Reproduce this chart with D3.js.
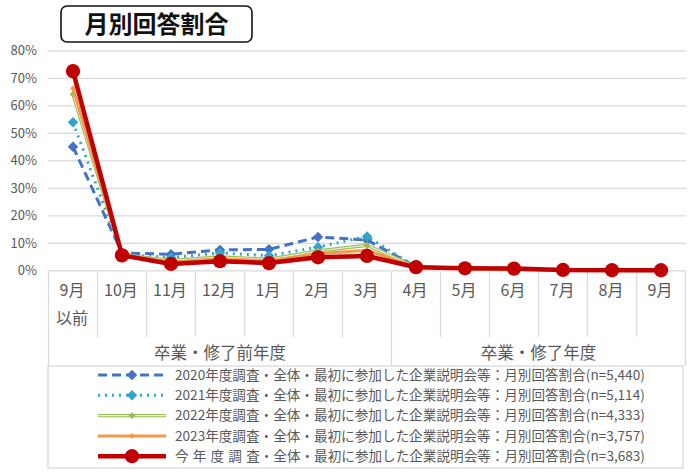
<!DOCTYPE html>
<html>
<head>
<meta charset="utf-8">
<script src="https://cdn.jsdelivr.net/npm/d3@7"></script>
<style>
  body { margin: 0; background: #fff; }
  text { font-family: "Noto Sans CJK JP", "Noto Sans", sans-serif; }
</style>
</head>
<body>
<div id="chart"></div>
<script>
// data
var months = ['9月', '10月', '11月', '12月', '1月', '2月', '3月', '4月', '5月', '6月', '7月', '8月', '9月'];
var groups = ['卒業・修了前年度', '卒業・修了年度'];
var yTicks = [0, 10, 20, 30, 40, 50, 60, 70, 80];

var v2020 = [45.1, 6.5, 6.0, 7.6, 7.8, 12.3, 11.2, 1.5, 0.8, 0.6, 0.3, 0.2, 0.1];
var v2021 = [54.0, 6.0, 4.8, 6.5, 5.5, 8.6, 12.5, 1.5, 0.8, 0.6, 0.3, 0.2, 0.1];
var v2022 = [64.2, 5.8, 3.8, 5.0, 4.2, 7.2, 9.3, 1.4, 0.8, 0.5, 0.3, 0.2, 0.1];
var v2023 = [66.4, 5.8, 3.2, 4.4, 3.6, 6.2, 7.5, 1.3, 0.8, 0.5, 0.3, 0.2, 0.1];
var vNow  = [72.6, 5.6, 2.5, 3.5, 2.8, 4.9, 5.4, 1.3, 0.9, 0.8, 0.3, 0.2, 0.2];

var prefixes = ['2020年度調査', '2021年度調査', '2022年度調査', '2023年度調査', '今年度調査'];
var suffixes = [
  '・全体・最初に参加した企業説明会等：月別回答割合(n=5,440)',
  '・全体・最初に参加した企業説明会等：月別回答割合(n=5,114)',
  '・全体・最初に参加した企業説明会等：月別回答割合(n=4,333)',
  '・全体・最初に参加した企業説明会等：月別回答割合(n=3,757)',
  '・全体・最初に参加した企業説明会等：月別回答割合(n=3,683)'
];

var svgWidth = 700;
var svgHeight = 476;
var gray = '#595959';
var gridColor = '#d9d9d9';

var svg = d3.select('#chart').append('svg')
  .attr('width', svgWidth)
  .attr('height', svgHeight);

// title box
svg.append('rect')
  .attr('x', 61).attr('y', 6)
  .attr('width', 191).attr('height', 36)
  .attr('rx', 6)
  .attr('fill', '#fff')
  .attr('stroke', '#111')
  .attr('stroke-width', 1.6);
svg.append('text')
  .attr('x', 156.5).attr('y', 33)
  .attr('text-anchor', 'middle')
  .attr('font-size', '24px')
  .attr('font-weight', 'bold')
  .attr('fill', '#111')
  .text('月別回答割合');

// scales
var x = d3.scaleBand().domain(d3.range(months.length)).range([48.5, 685.5]);
var y = d3.scaleLinear().domain([0, 80]).range([270.8, 50.8]);

// gridlines and y labels
svg.append('g').selectAll('line')
  .data(yTicks)
  .enter()
  .append('line')
  .attr('x1', 48).attr('x2', 686)
  .attr('y1', d => y(d)).attr('y2', d => y(d))
  .attr('stroke', gridColor)
  .attr('stroke-width', 1.3);

svg.append('g').selectAll('text')
  .data(yTicks)
  .enter()
  .append('text')
  .attr('x', 37)
  .attr('y', d => y(d))
  .attr('dy', '0.35em')
  .attr('text-anchor', 'end')
  .attr('font-size', '13px')
  .attr('fill', gray)
  .text(d => d + '%');

// category table
var tableTop = 272, monthBottom = 337, tableBottom = 366;
var table = svg.append('g');
table.selectAll('.vline')
  .data(d3.range(1, months.length))
  .enter()
  .append('line')
  .attr('x1', i => x(i)).attr('x2', i => x(i))
  .attr('y1', tableTop).attr('y2', monthBottom)
  .attr('stroke', gridColor)
  .attr('stroke-width', 1.3);
[x(0), x.range()[1]].forEach(function(px) {
  table.append('line')
    .attr('x1', px).attr('x2', px)
    .attr('y1', tableTop).attr('y2', tableBottom)
    .attr('stroke', gridColor).attr('stroke-width', 1.3);
});
table.append('line')
  .attr('x1', x(7)).attr('x2', x(7))
  .attr('y1', monthBottom).attr('y2', tableBottom)
  .attr('stroke', gridColor).attr('stroke-width', 1.3);

table.selectAll('.month')
  .data(months)
  .enter()
  .append('text')
  .attr('x', (d, i) => x(i) + x.bandwidth() / 2 - 1)
  .attr('y', 290)
  .attr('dy', '0.35em')
  .attr('text-anchor', 'middle')
  .attr('font-size', '16px')
  .attr('fill', gray)
  .text(d => d);
table.append('text')
  .attr('x', x(0) + x.bandwidth() / 2 - 1)
  .attr('y', 318)
  .attr('dy', '0.35em')
  .attr('text-anchor', 'middle')
  .attr('font-size', '16px')
  .attr('fill', gray)
  .text('以前');

table.append('text')
  .attr('x', (x(0) + x(7)) / 2)
  .attr('y', 353)
  .attr('dy', '0.35em')
  .attr('text-anchor', 'middle')
  .attr('font-size', '16.5px')
  .attr('fill', gray)
  .text(groups[0]);
table.append('text')
  .attr('x', (x(7) + x.range()[1]) / 2)
  .attr('y', 353)
  .attr('dy', '0.35em')
  .attr('text-anchor', 'middle')
  .attr('font-size', '16.5px')
  .attr('fill', gray)
  .text(groups[1]);

// series styles
var series = [
  { values: v2020, color: '#4472c4', width: 3, dash: '9,5', marker: 'diamond', size: 70 },
  { values: v2021, color: '#31a6c9', width: 3, dash: '2,5', marker: 'diamond', size: 70 },
  { values: v2022, color: '#9bbb59', width: 3.4, dash: null, marker: 'diamond', size: 30, inner: '#e9f2dc' },
  { values: v2023, color: '#f39a4a', width: 3, dash: null, marker: 'diamond', size: 22 },
  { values: vNow,  color: '#c00000', width: 4.5, dash: null, marker: 'circle', size: 160 }
];

var line = d3.line()
  .x((d, i) => x(i) + x.bandwidth() / 2)
  .y(d => y(d));

function symbolFor(s) {
  var type = s.marker === 'circle' ? d3.symbolCircle : d3.symbolDiamond2;
  return d3.symbol().type(type).size(s.size)();
}

series.forEach(function(s) {
  var g = svg.append('g');
  g.append('path')
    .attr('d', line(s.values))
    .attr('fill', 'none')
    .attr('stroke', s.color)
    .attr('stroke-width', s.width)
    .attr('stroke-dasharray', s.dash)
    .attr('stroke-linejoin', 'round');
  if (s.inner) {
    g.append('path')
      .attr('d', line(s.values))
      .attr('fill', 'none')
      .attr('stroke', s.inner)
      .attr('stroke-width', 1.2);
  }
  g.selectAll('path.mk')
    .data(s.values)
    .enter()
    .append('path')
    .classed('mk', true)
    .attr('d', symbolFor(s))
    .attr('transform', (d, i) => `translate(${x(i) + x.bandwidth() / 2},${y(d)})`)
    .attr('fill', s.color);
});

// legend
svg.append('rect')
  .attr('x', 48).attr('y', tableBottom)
  .attr('width', 635).attr('height', 102)
  .attr('fill', 'none')
  .attr('stroke', gridColor)
  .attr('stroke-width', 1.3);

var legend = svg.append('g').selectAll('g')
  .data(series)
  .enter()
  .append('g')
  .attr('transform', (d, i) => `translate(0, ${375 + i * 20.3})`);

legend.append('line')
  .attr('x1', 98).attr('x2', 166)
  .attr('y1', 0).attr('y2', 0)
  .attr('stroke', d => d.color)
  .attr('stroke-width', d => d.width)
  .attr('stroke-dasharray', d => d.dash);
legend.filter(d => d.inner).append('line')
  .attr('x1', 98).attr('x2', 166)
  .attr('y1', 0).attr('y2', 0)
  .attr('stroke', d => d.inner)
  .attr('stroke-width', 1.2);
legend.append('path')
  .attr('d', d => symbolFor(d))
  .attr('transform', 'translate(132,0)')
  .attr('fill', d => d.color);

var legendText = legend.append('text')
  .attr('x', 175)
  .attr('y', 0)
  .attr('dy', '0.35em')
  .attr('font-size', '13.6px')
  .attr('fill', gray);
// last prefix split so its first characters can be spaced out
var headSpans = legendText.append('tspan')
  .text((d, i) => i < 4 ? prefixes[i] : prefixes[i].slice(0, -1));
legendText.append('tspan')
  .text((d, i) => (i < 4 ? '' : prefixes[i].slice(-1)) + suffixes[i]);

// spread "今年度調査" to the width of the other prefixes
var fullWidth = headSpans.nodes()[0].getComputedTextLength();
var lastHead = headSpans.nodes()[4];
var lastChar = fullWidth / 6.3;
var gap = (fullWidth - lastHead.getComputedTextLength() - lastChar) / 4;
d3.select(lastHead).attr('letter-spacing', gap);
</script>
</body>
</html>
